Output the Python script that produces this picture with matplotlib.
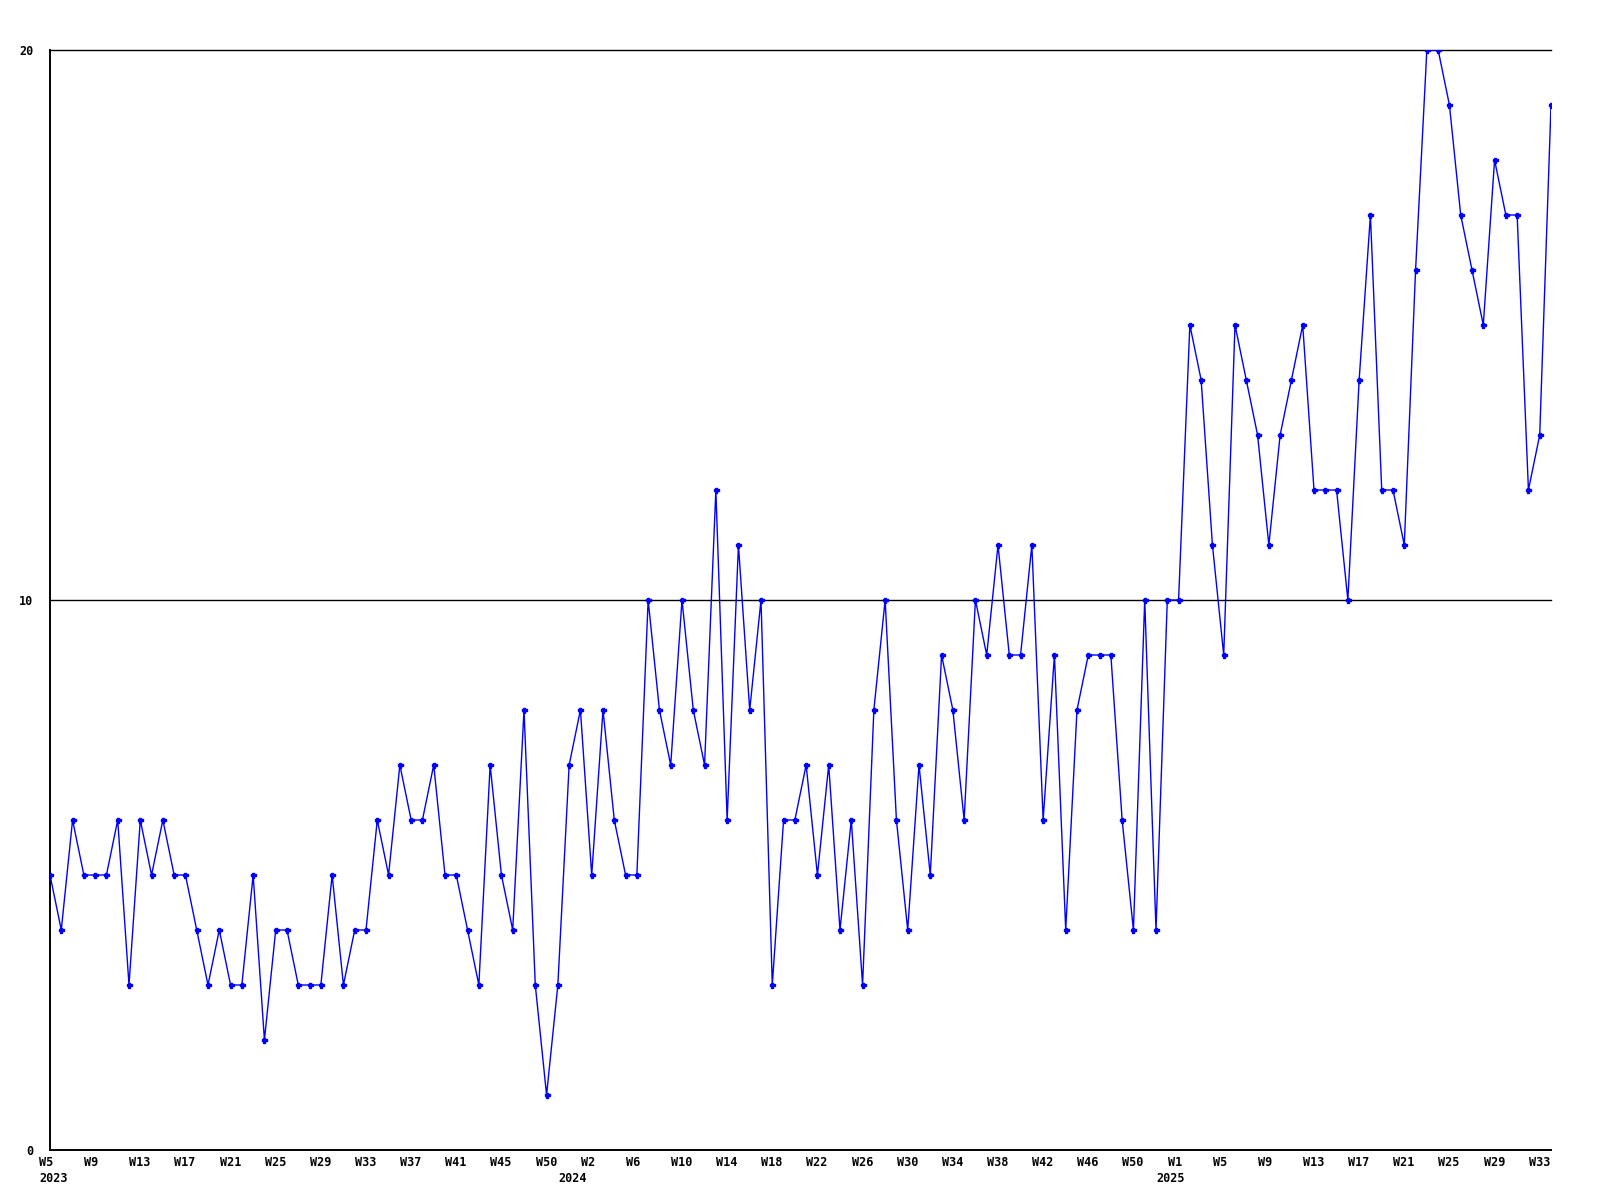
#!/usr/bin/env python

#
# Weekly counts, 2023 W5 .. 2025 W34
#

import matplotlib
matplotlib.use("Agg")
import matplotlib.pyplot as plt
import matplotlib.transforms as mtransforms

# one value per week, starting at 2023 W5
counts = [
  5, 4, 6, 5, 5, 5, 6, 3, 6, 5, 6, 5, 5, 4, 3, 4, 3, 3, 5, 2,
  4, 4, 3, 3, 3, 5, 3, 4, 4, 6, 5, 7, 6, 6, 7, 5, 5, 4, 3, 7,
  5, 4, 8, 3, 1, 3, 7, 8, 5, 8, 6, 5, 5, 10, 8, 7, 10, 8, 7, 12,
  6, 11, 8, 10, 3, 6, 6, 7, 5, 7, 4, 6, 3, 8, 10, 6, 4, 7, 5, 9,
  8, 6, 10, 9, 11, 9, 9, 11, 6, 9, 4, 8, 9, 9, 9, 6, 4, 10, 4, 10,
  10, 15, 14, 11, 9, 15, 14, 13, 11, 13, 14, 15, 12, 12, 12, 10, 14, 17, 12, 12,
  11, 16, 20, 20, 19, 17, 16, 15, 18, 17, 17, 12, 13, 19,
]

week_labels = [
  "W5", "W9", "W13", "W17", "W21", "W25", "W29", "W33", "W37", "W41", "W45", "W50",
  "W2", "W6", "W10", "W14", "W18", "W22", "W26", "W30", "W34", "W38", "W42", "W46", "W50",
  "W1", "W5", "W9", "W13", "W17", "W21", "W25", "W29", "W33",
]
year_labels = ["2023", "2024", "2025"]
year_pos = [0, 46, 99]   # week index the year label sits under

y_ticks = [0, 10, 20]


def main():
  fig = plt.figure(figsize=(16, 12), dpi=100)
  ax = fig.add_axes([50 / 1600., 50 / 1200., 1501 / 1600., 1100 / 1200.])

  x = list(range(len(counts)))
  ax.plot(x, counts, color="#0000ff", lw=1.0, marker="P", ms=3.6,
          mec="#0000ff", mfc="#0000ff", zorder=3)

  ax.set_xlim(0, len(counts) - 1)
  ax.set_ylim(0, 20)

  for v in y_ticks[1:]:
    ax.axhline(v, color="black", lw=1.0, zorder=1, clip_on=False)

  for side in ("top", "right"):
    ax.spines[side].set_visible(False)
  for side in ("left", "bottom"):
    ax.spines[side].set_linewidth(1.4)

  font = dict(family="DejaVu Sans Mono", weight="bold", size=8.5)

  ax.set_yticks(y_ticks)
  ax.set_yticklabels([str(v) for v in y_ticks], **font)
  ax.tick_params(axis="y", length=0, pad=12)

  ax.set_xticks(range(0, 4 * len(week_labels), 4))
  ax.set_xticklabels(week_labels, **font)
  ax.tick_params(axis="x", length=0, pad=4.5)
  shift = mtransforms.ScaledTranslation(-11 / 100., 0, fig.dpi_scale_trans)
  for lab in ax.get_xticklabels():
    lab.set_horizontalalignment("left")
    lab.set_transform(lab.get_transform() + shift)

  trans = mtransforms.blended_transform_factory(ax.transData, ax.transAxes)
  yshift = mtransforms.ScaledTranslation(-11 / 100., -22 / 100., fig.dpi_scale_trans)
  for pos, year in zip(year_pos, year_labels):
    ax.text(pos, 0, year, transform=trans + yshift, ha="left", va="top", **font)

  fig.savefig("out.png", dpi=100)


if __name__ == "__main__":
  main()
